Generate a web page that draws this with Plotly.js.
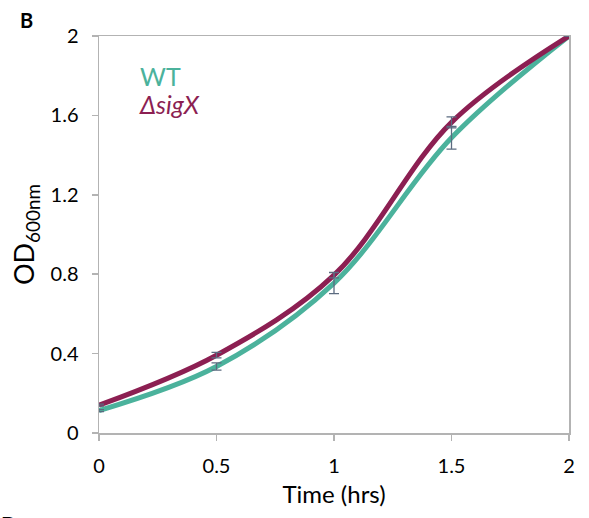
<!DOCTYPE html>
<html><head><meta charset="utf-8">
<script src="https://cdn.plot.ly/plotly-3.0.1.min.js"></script>
<style>body{margin:0;background:#fff}#c{width:589px;height:518px}</style>
</head><body><div id="c"></div>
<script>
const time = [0, 0.5, 1, 1.5, 2];
const wtOD = [0.113, 0.335, 0.755, 1.487, 2.0];
const wtErr = [0.005, 0.018, 0.053, 0.057, 0.0];
const sigxOD = [0.14, 0.392, 0.795, 1.565, 2.0];
const sigxErr = [0.005, 0.014, 0.014, 0.028, 0.0];
const yTicks = [0, 0.4, 0.8, 1.2, 1.6, 2];
const xTicks = [0, 0.5, 1, 1.5, 2];

const teal = '#4bb29c', maroon = '#8c1f52', errCol = '#5b6b80';
const font = 'Lato, "Open Sans", sans-serif';

const traces = [
  {x: time, y: wtOD, mode: 'lines', line: {color: teal, width: 5, shape: 'spline', smoothing: 1}, hoverinfo: 'skip'},
  {x: time, y: sigxOD, mode: 'lines', line: {color: maroon, width: 5, shape: 'spline', smoothing: 1}, hoverinfo: 'skip'},
  {x: time, y: wtOD, mode: 'markers', marker: {size: 1, opacity: 0}, error_y: {type: 'data', array: wtErr, color: errCol, thickness: 1.3, width: 5}},
  {x: time, y: sigxOD, mode: 'markers', marker: {size: 1, opacity: 0}, error_y: {type: 'data', array: sigxErr, color: errCol, thickness: 1.3, width: 5}}
];

const layout = {
  width: 589, height: 518,
  margin: {l: 99, r: 20, t: 36, b: 85},
  paper_bgcolor: '#fff', plot_bgcolor: '#fff',
  showlegend: false,
  font: {family: font, color: '#000', size: 20},
  xaxis: {
    range: [0, 2], tickvals: xTicks, ticktext: xTicks.map(String),
    showgrid: false, zeroline: false, showline: true, mirror: true, linecolor: '#b3b3b3', linewidth: 1.5,
    ticks: 'outside', ticklen: 6, tickcolor: '#b3b3b3', tickwidth: 1.5,
    tickfont: {size: 20, family: font}, ticklabelstandoff: 8,
    title: {text: 'Time (hrs)', font: {size: 24, family: font}, standoff: 10}
  },
  yaxis: {
    range: [0, 2], tickvals: yTicks, ticktext: yTicks.map(String),
    showgrid: false, zeroline: false, showline: true, mirror: true, linecolor: '#b3b3b3', linewidth: 1.5,
    ticks: 'outside', ticklen: 6, tickcolor: '#b3b3b3', tickwidth: 1.5,
    tickfont: {size: 20, family: font}, ticklabelstandoff: 9,
    title: {text: 'OD<sub>600nm</sub>', font: {size: 27, family: font}, standoff: 8}
  },
  annotations: [
    {xref: 'paper', yref: 'paper', x: 0.083, y: 0.899, xanchor: 'left', yanchor: 'middle', text: 'WT', showarrow: false, font: {size: 25, color: teal, family: font}},
    {xref: 'paper', yref: 'paper', x: 0.08, y: 0.829, xanchor: 'left', yanchor: 'middle', text: '<i>ΔsigX</i>', showarrow: false, font: {size: 25, color: maroon, family: font}},
    {xref: 'paper', yref: 'paper', x: -0.173, y: 1.04, xanchor: 'left', yanchor: 'middle', text: '<b>B</b>', showarrow: false, font: {size: 20, family: font}},
    {xref: 'paper', yref: 'paper', x: -0.212, y: -0.194, xanchor: 'left', yanchor: 'top', text: '<b>D</b>', showarrow: false, font: {size: 22, family: font}}
  ]
};
Plotly.newPlot('c', traces, layout, {displayModeBar: false, staticPlot: true});
</script></body></html>
